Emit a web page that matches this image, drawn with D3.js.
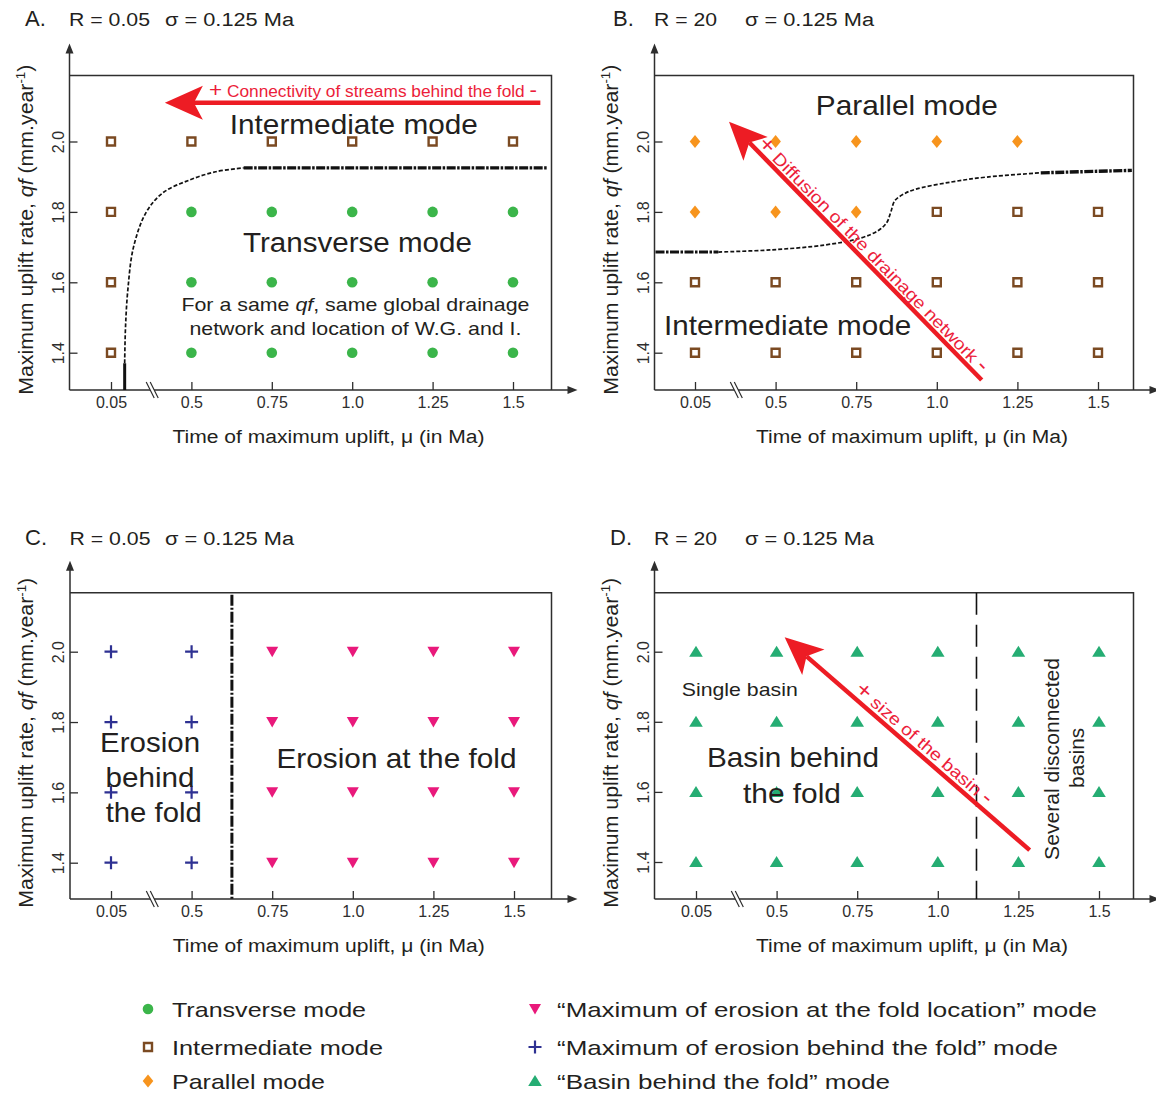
<!DOCTYPE html>
<html>
<head>
<meta charset="utf-8">
<script src="https://cdn.jsdelivr.net/npm/d3@7"></script>
<style>
  body { margin: 0; background: #fff; }
  svg { display: block; font-family: "Liberation Sans", Arial, sans-serif; }
</style>
</head>
<body>
<svg id="chart" width="1156" height="1095"></svg>
<script>
// ---- data ----
const uLabels = ["0.05", "0.5", "0.75", "1.0", "1.25", "1.5"];
const qfTicks = [1.4, 1.6, 1.8, 2.0];
const qfRows = [2.0, 1.8, 1.6, 1.4];
const panelR = ["0.05", "20", "0.05", "20"];
const sigma = "0.125";

// mode codes, one row per qf (2.0 -> 1.4), one column per time of uplift
// T transverse, I intermediate, P parallel, F erosion at fold, E erosion behind fold, B basin behind fold
const modesA = [
  ["I", "I", "I", "I", "I", "I"],
  ["I", "T", "T", "T", "T", "T"],
  ["I", "T", "T", "T", "T", "T"],
  ["I", "T", "T", "T", "T", "T"]
];
const modesB = [
  ["P", "P", "P", "P", "P", null],
  ["P", "P", "P", "I", "I", "I"],
  ["I", "I", "I", "I", "I", "I"],
  ["I", "I", "I", "I", "I", "I"]
];
const modesC = [
  ["E", "E", "F", "F", "F", "F"],
  ["E", "E", "F", "F", "F", "F"],
  ["E", "E", "F", "F", "F", "F"],
  ["E", "E", "F", "F", "F", "F"]
];
const modesD = [
  ["B", "B", "B", "B", "B", "B"],
  ["B", "B", "B", "B", "B", "B"],
  ["B", "B", "B", "B", "B", "B"],
  ["B", "B", "B", "B", "B", "B"]
];

// mode boundaries as [column index, qf]
const boundaryA_base = [[0.17, 1.294], [0.17, 1.37]];
const boundaryA_curve = [[0.17, 1.37], [0.18, 1.47], [0.21, 1.58], [0.28, 1.7], [0.44, 1.8],
  [0.65, 1.855], [0.97, 1.89], [1.3, 1.914], [1.65, 1.925]];
const boundaryA_flat = [[1.65, 1.925], [5.43, 1.925]];
const boundaryB_left = [[-0.49, 1.686], [0.29, 1.686]];
const boundaryB_curve = [[0.29, 1.686], [0.94, 1.692], [1.61, 1.706], [2.06, 1.726], [2.28, 1.748],
  [2.38, 1.77], [2.43, 1.8], [2.48, 1.832], [2.6, 1.852], [2.73, 1.864], [3.18, 1.885],
  [3.62, 1.899], [4.29, 1.911]];
const boundaryB_right = [[4.29, 1.911], [5.42, 1.918]];
const boundaryC_u = 1.5;
const boundaryD_u = 3.48;

const legendLeft = [["T", "Transverse mode"], ["I", "Intermediate mode"], ["P", "Parallel mode"]];
const legendRight = [
  ["F", "\u201cMaximum of erosion at the fold location\u201d mode"],
  ["E", "\u201cMaximum of erosion behind the fold\u201d mode"],
  ["B", "\u201cBasin behind the fold\u201d mode"]
];

// ---- styles ----
const ink = "#231f20";
const axisInk = "#2e2e2e";
const red = "#ed1c24";
const redText = "#ec1d3a";

const symbolPaths = {
  T: d3.symbol(d3.symbolCircle, 88)(),
  I: d3.symbol(d3.symbolSquare, 64)(),
  P: "M0,-6.5L5.3,0L0,6.5L-5.3,0Z",
  F: "M0,5.5L-6,-5L6,-5Z",
  E: "M-6.5,0H6.5M0,-6.5V6.5",
  B: "M0,-6L6.8,5L-6.8,5Z"
};
const symbolStyle = {
  T: {fill: "#3bb54a", stroke: "none", width: 0},
  I: {fill: "#fff", stroke: "#7b4a22", width: 2.4},
  P: {fill: "#f7941d", stroke: "none", width: 0},
  F: {fill: "#e9197b", stroke: "none", width: 0},
  E: {fill: "none", stroke: "#2e3192", width: 2.2},
  B: {fill: "#25ad73", stroke: "none", width: 0}
};

const panels = [
  {name: "A.", left: 69.5, right: 551.5, top: 75.5, bottom: 390, x0: 111, x5: 513, y20: 141.5, y14: 352.7,
    titleX: 25, titleY: 26, rW: 81, sigmaX: 165, modes: modesA},
  {name: "B.", left: 654.5, right: 1133.5, top: 75.5, bottom: 390, x0: 695, x5: 1098, y20: 141.5, y14: 352.7,
    titleX: 613, titleY: 26, rW: 63, sigmaX: 745, modes: modesB},
  {name: "C.", left: 70, right: 551.5, top: 592.7, bottom: 899, x0: 111, x5: 514, y20: 651.7, y14: 862.7,
    titleX: 25, titleY: 545, rW: 81, sigmaX: 165, modes: modesC},
  {name: "D.", left: 654.5, right: 1133.5, top: 592.7, bottom: 899, x0: 696, x5: 1099, y20: 651.7, y14: 862,
    titleX: 610, titleY: 545, rW: 63, sigmaX: 745, modes: modesD}
];

const svg = d3.select("#chart");

function txt(g, x, y, str, size, width, anchor) {
  const t = g.append("text")
    .attr("x", x).attr("y", y)
    .attr("font-size", size)
    .attr("fill", ink)
    .attr("text-anchor", anchor || "middle")
    .text(str);
  if (width) t.attr("textLength", width).attr("lengthAdjust", "spacingAndGlyphs");
  return t;
}

function arrow(g, x1, y1, x2, y2) {
  const a = Math.atan2(y2 - y1, x2 - x1);
  const ux = Math.cos(a), uy = Math.sin(a), px = -uy, py = ux;
  const L = 38, W = 17, N = 9;
  const bx = x2 - ux * L, by = y2 - uy * L;
  const nx = x2 - ux * (L - N), ny = y2 - uy * (L - N);
  g.append("line")
    .attr("x1", x1).attr("y1", y1).attr("x2", nx).attr("y2", ny)
    .attr("stroke", red).attr("stroke-width", 4.5);
  g.append("path")
    .attr("d", `M${x2},${y2}L${bx + px * W},${by + py * W}L${nx},${ny}L${bx - px * W},${by - py * W}Z`)
    .attr("fill", red);
}

// red "+ ... -" label
function plusMinus(t, str) {
  t.attr("fill", redText);
  t.append("tspan").attr("font-size", "1.3em").text("+");
  t.append("tspan").text(` ${str} `);
  t.append("tspan").attr("font-size", "1.3em").text("-");
  return t;
}

function alongText(g, tail, tip, str, size, tMid, len, off) {
  const a = Math.atan2(tail[1] - tip[1], tail[0] - tip[0]);
  const cx = tip[0] + Math.cos(a) * tMid, cy = tip[1] + Math.sin(a) * tMid;
  const t = g.append("text")
    .attr("transform", `translate(${cx},${cy}) rotate(${a * 180 / Math.PI})`)
    .attr("y", -off)
    .attr("font-size", size)
    .attr("text-anchor", "middle")
    .attr("textLength", len).attr("lengthAdjust", "spacingAndGlyphs");
  plusMinus(t, str);
}

function drawPanel(p, i) {
  const g = svg.append("g");
  const x = d3.scaleLinear().domain([0, 5]).range([p.x0, p.x5]);
  const y = d3.scaleLinear().domain([1.4, 2.0]).range([p.y14, p.y20]);

  // title
  txt(g, p.titleX, p.titleY, p.name, 22, null, "start");
  txt(g, p.left - 0.5, p.titleY, `R = ${panelR[i]}`, 18, p.rW, "start");
  txt(g, p.sigmaX, p.titleY, `\u03c3 = ${sigma} Ma`, 18, 129, "start");

  // axes
  const xAxis = d3.axisBottom(x).tickValues(d3.range(6)).tickFormat(d => uLabels[d])
    .tickSizeInner(-8).tickSizeOuter(0).tickPadding(7);
  g.append("g")
    .attr("transform", `translate(0,${p.bottom})`)
    .call(xAxis)
    .call(a => a.select(".domain").remove())
    .attr("font-size", 16).attr("font-family", null).attr("color", axisInk)
    .call(a => a.selectAll("line").attr("stroke-width", 1.3));

  const yAxis = d3.axisLeft(y).tickValues(qfTicks).tickFormat(d3.format(".1f"))
    .tickSizeInner(-8).tickSizeOuter(0);
  g.append("g")
    .attr("transform", `translate(${p.left},0)`)
    .call(yAxis)
    .call(a => a.select(".domain").remove())
    .attr("font-size", 16).attr("font-family", null).attr("color", axisInk)
    .call(a => a.selectAll("line").attr("stroke-width", 1.3))
    .call(a => a.selectAll("text")
      .attr("transform", "rotate(-90)")
      .attr("x", 0).attr("y", -6).attr("dy", null)
      .attr("text-anchor", "middle"));

  // axis lines with arrow heads
  const yTip = p.top - 32, xTip = p.right + 26;
  g.append("path")
    .attr("d", `M${p.left},${p.bottom}V${yTip + 6}M${p.left},${p.bottom}H${xTip - 6}`)
    .attr("stroke", axisInk).attr("stroke-width", 1.5).attr("fill", "none");
  g.append("path")
    .attr("d", `M${p.left},${yTip}l-4,10l8,0Z M${xTip},${p.bottom}l-10,-4l0,8Z`)
    .attr("fill", axisInk);
  // box
  g.append("path")
    .attr("d", `M${p.left},${p.top}H${p.right}V${p.bottom}`)
    .attr("stroke", axisInk).attr("stroke-width", 1.5).attr("fill", "none");

  // axis break
  const bx = x(0.5);
  g.append("path")
    .attr("d", `M${bx - 5},${p.bottom - 8}L${bx + 3},${p.bottom + 8}L${bx + 7},${p.bottom + 8}L${bx - 1},${p.bottom - 8}Z`)
    .attr("fill", "#fff");
  g.append("path")
    .attr("d", `M${bx - 5},${p.bottom - 8}L${bx + 3},${p.bottom + 8}M${bx - 1},${p.bottom - 8}L${bx + 7},${p.bottom + 8}`)
    .attr("stroke", axisInk).attr("stroke-width", 1.2);

  // axis titles
  txt(g, (p.left + p.right) / 2 + 18, p.bottom + 53, "Time of maximum uplift, \u03bc (in Ma)", 18, 312);
  const yt = g.append("text")
    .attr("transform", `translate(${p.left - 37},${(p.top + p.bottom) / 2 - 3}) rotate(-90)`)
    .attr("font-size", 20).attr("fill", ink).attr("text-anchor", "middle")
    .attr("textLength", 330).attr("lengthAdjust", "spacingAndGlyphs");
  yt.append("tspan").text("Maximum uplift rate, ");
  yt.append("tspan").attr("font-style", "italic").text("qf");
  yt.append("tspan").text(" (mm.year");
  yt.append("tspan").attr("font-size", "0.62em").attr("dy", "-0.6em").text("-1");
  yt.append("tspan").attr("dy", "0.37em").text(")");

  return {g, x, y};
}

function drawPoints(g, x, y, modes) {
  const pts = [];
  modes.forEach((row, r) => row.forEach((m, c) => { if (m) pts.push({u: c, q: qfRows[r], m}); }));
  g.append("g").selectAll("path")
    .data(pts)
    .join("path")
    .attr("d", d => symbolPaths[d.m])
    .attr("transform", d => `translate(${x(d.u)},${y(d.q)})`)
    .attr("fill", d => symbolStyle[d.m].fill)
    .attr("stroke", d => symbolStyle[d.m].stroke)
    .attr("stroke-width", d => symbolStyle[d.m].width);
}

function boundary(g, x, y, pts, width, dash) {
  const line = d3.line().x(d => x(d[0])).y(d => y(d[1])).curve(d3.curveCatmullRom.alpha(0.5));
  g.append("path")
    .attr("d", line(pts))
    .attr("fill", "none").attr("stroke", "#111")
    .attr("stroke-width", width)
    .attr("stroke-dasharray", dash);
}

const heavyDash = "9,1.5,2.5,1.5";
const thinDash = "4,2";

// ---- panel A ----
{
  const p = panels[0];
  const {g, x, y} = drawPanel(p, 0);
  boundary(g, x, y, boundaryA_base, 3, null);
  boundary(g, x, y, boundaryA_curve, 1.7, thinDash);
  boundary(g, x, y, boundaryA_flat, 3.4, heavyDash);
  drawPoints(g, x, y, modesA);
  txt(g, x(3.02), y(2.021), "Intermediate mode", 28, 248);
  txt(g, x(3.065), y(1.686), "Transverse mode", 27, 229);
  const t = txt(g, x(3.04), y(1.519), "", 18.5, 348);
  t.append("tspan").text("For a same ");
  t.append("tspan").attr("font-style", "italic").text("qf");
  t.append("tspan").text(", same global drainage");
  txt(g, x(3.04), y(1.450), "network and location of W.G. and I.", 18.5, 332);
  arrow(g, x(5.34), y(2.110), x(0.67), y(2.110));
  const r = g.append("text")
    .attr("x", x(1.219)).attr("y", y(2.1256))
    .attr("font-size", 16)
    .attr("textLength", 328).attr("lengthAdjust", "spacingAndGlyphs");
  plusMinus(r, "Connectivity of streams behind the fold");
}

// ---- panel B ----
{
  const p = panels[1];
  const {g, x, y} = drawPanel(p, 1);
  boundary(g, x, y, boundaryB_left, 3, heavyDash);
  boundary(g, x, y, boundaryB_curve, 1.7, thinDash);
  boundary(g, x, y, boundaryB_right, 3.4, heavyDash);
  drawPoints(g, x, y, modesB);
  txt(g, x(2.628), y(2.0753), "Parallel mode", 28, 182);
  txt(g, x(1.149), y(1.450), "Intermediate mode", 28, 247);
  const tail = [x(3.557), y(1.3224)], tip = [x(0.422), y(2.056)];
  arrow(g, tail[0], tail[1], tip[0], tip[1]);
  alongText(g, tail, tip, "Diffusion of the drainage network", 17, 196, 320, 4);
}

// ---- panel C ----
{
  const p = panels[2];
  const {g, x, y} = drawPanel(p, 2);
  g.append("line")
    .attr("x1", x(boundaryC_u)).attr("x2", x(boundaryC_u))
    .attr("y1", p.top + 2).attr("y2", p.bottom)
    .attr("stroke", "#111").attr("stroke-width", 3)
    .attr("stroke-dasharray", "11,2,2,2");
  drawPoints(g, x, y, modesC);
  txt(g, x(0.485), y(1.7157), "Erosion", 28, 100);
  txt(g, x(0.485), y(1.616), "behind", 28, 89);
  txt(g, x(0.53), y(1.5166), "the fold", 28, 96);
  txt(g, x(3.542), y(1.670), "Erosion at the fold", 28, 240);
}

// ---- panel D ----
{
  const p = panels[3];
  const {g, x, y} = drawPanel(p, 3);
  g.append("line")
    .attr("x1", x(boundaryD_u)).attr("x2", x(boundaryD_u))
    .attr("y1", p.top).attr("y2", p.bottom)
    .attr("stroke", "#111").attr("stroke-width", 1.6)
    .attr("stroke-dasharray", "22,10");
  drawPoints(g, x, y, modesD);
  txt(g, x(0.543), y(1.874), "Single basin", 19, 116);
  txt(g, x(1.203), y(1.671), "Basin behind", 28, 172);
  txt(g, x(1.191), y(1.568), "the fold", 28, 98);
  g.append("text")
    .attr("transform", `translate(${x(4.5)},${y(1.694)}) rotate(-90)`)
    .attr("font-size", 21).attr("fill", ink).attr("text-anchor", "middle")
    .attr("textLength", 202).attr("lengthAdjust", "spacingAndGlyphs")
    .text("Several disconnected");
  g.append("text")
    .attr("transform", `translate(${x(4.81)},${y(1.697)}) rotate(-90)`)
    .attr("font-size", 21).attr("fill", ink).attr("text-anchor", "middle")
    .attr("textLength", 60).attr("lengthAdjust", "spacingAndGlyphs")
    .text("basins");
  const tail = [x(4.14), y(1.434)], tip = [x(1.10), y(2.041)];
  arrow(g, tail[0], tail[1], tip[0], tip[1]);
  alongText(g, tail, tip, "size of the basin", 17, 175, 175, 5);
}

// ---- legend ----
const legend = svg.append("g");
const rowY = [1009, 1047, 1081];
const leftW = [194, 211, 153];
const rightW = [540, 501, 333];
legendLeft.forEach(([m, label], k) => {
  drawPoints(legend, () => 148, () => rowY[k], [[m]]);
  txt(legend, 172, rowY[k] + 7.5, label, 21, leftW[k], "start");
});
legendRight.forEach(([m, label], k) => {
  drawPoints(legend, () => 535, () => rowY[k], [[m]]);
  txt(legend, 557, rowY[k] + 7.5, label, 21, rightW[k], "start");
});
</script>
</body>
</html>
